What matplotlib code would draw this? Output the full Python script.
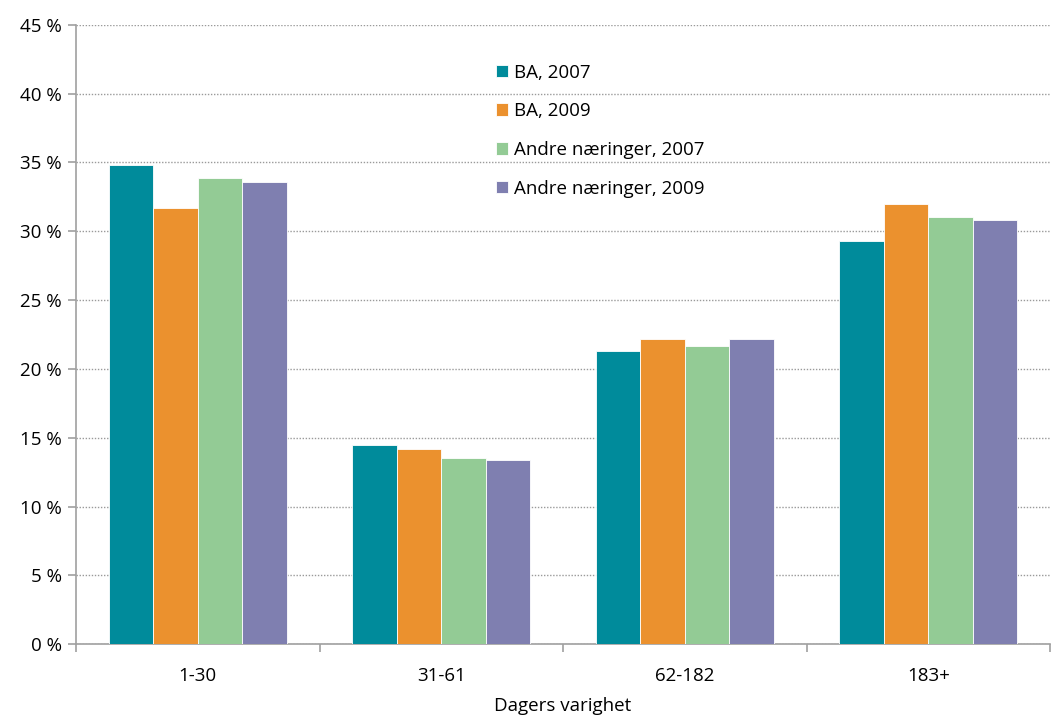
import matplotlib
matplotlib.use("Agg")
import matplotlib.pyplot as plt
import numpy as np

categories = ["1-30", "31-61", "62-182", "183+"]
series_names = ["BA, 2007", "BA, 2009", "Andre næringer, 2007", "Andre næringer, 2009"]
ba_2007 = [34.8, 14.5, 21.3, 29.3]
ba_2009 = [31.7, 14.2, 22.2, 32.0]
andre_2007 = [33.9, 13.5, 21.7, 31.0]
andre_2009 = [33.6, 13.4, 22.2, 30.8]
y_ticks = [0, 5, 10, 15, 20, 25, 30, 35, 40, 45]
x_label = "Dagers varighet"

colors = ["#008B9B", "#EB912E", "#93CB95", "#7F7FB0"]
plt.rcParams["font.family"] = ["Open Sans", "DejaVu Sans"]
fs = 13.5

fig = plt.figure(figsize=(10.51, 7.16), dpi=100)
W, H = 1051, 716
ax = fig.add_axes([76 / W, 1 - 644.3 / H, (1050 - 76) / W, (644.3 - 24.7) / H])

series = [ba_2007, ba_2009, andre_2007, andre_2009]
x = np.arange(len(categories))
bw = 0.183
for i, (vals, c, name) in enumerate(zip(series, colors, series_names)):
    ax.bar(x + (i - 1.5) * bw, vals, width=bw, color=c, edgecolor="white",
           linewidth=0.6, label=name, zorder=3)

ax.set_xlim(-0.5, len(categories) - 0.5)
ax.set_ylim(0, 45)
ax.set_yticks(y_ticks)
ax.set_yticklabels([f"{v} %" for v in y_ticks], fontsize=fs)
ax.yaxis.grid(True, linestyle=(0, (1, 1.2)), color="#9a9a9a", linewidth=1.0, zorder=0)
ax.set_xticks(x)
ax.set_xticklabels(categories, fontsize=fs)
ax.set_xticks(np.arange(-0.5, len(categories), 1.0), minor=True)
ax.tick_params(axis="x", which="major", length=0, pad=16)
ax.tick_params(axis="x", which="minor", length=6, color="#a0a0a0", width=1.2)
ax.tick_params(axis="y", length=6, color="#a0a0a0", width=1.2, pad=4)

for s in ["top", "right"]:
    ax.spines[s].set_visible(False)
for s in ["left", "bottom"]:
    ax.spines[s].set_color("#a0a0a0")
    ax.spines[s].set_linewidth(1.2)

ax.set_xlabel(x_label, fontsize=fs, labelpad=9)

leg = ax.legend(loc="upper left", bbox_to_anchor=(420 / 974, 1 - 39 / 620),
                frameon=False, fontsize=fs, handlelength=0.65, handleheight=0.65,
                handletextpad=0.3, labelspacing=1.1, borderpad=0, borderaxespad=0)

fig.savefig("out.png", dpi=100)
